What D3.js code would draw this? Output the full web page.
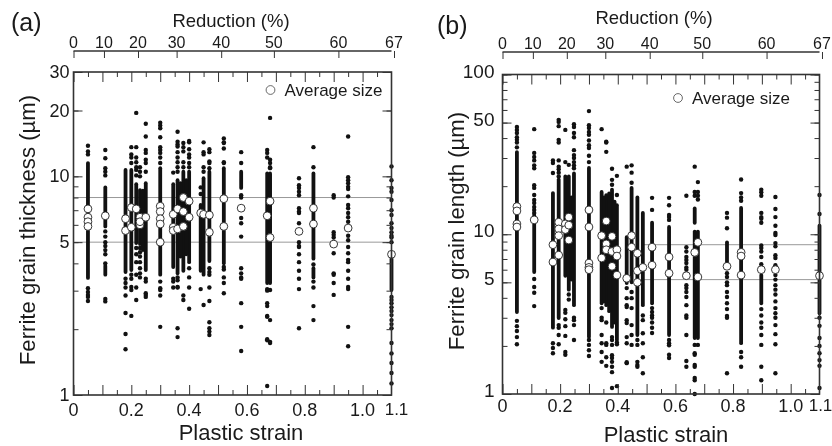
<!DOCTYPE html>
<html>
<head>
<meta charset="utf-8">
<script src="https://cdn.jsdelivr.net/npm/d3@7"></script>
<style>
body { margin: 0; background: #fff; }
svg { display: block; filter: blur(0.4px); }
text { font-family: "Liberation Sans", Arial, sans-serif; fill: #1a1a1a; }
.axis text { font-family: "Liberation Sans", Arial, sans-serif; fill: #1a1a1a; }
.axis path, .axis line { stroke: #333; }
.guide { stroke: #999; stroke-width: 1; }
</style>
</head>
<body>
<script>
var w = 832;
var h = 446;

//Shared tick labels
var reductionTicks = [0, 10, 20, 30, 40, 50, 60, 67];
var strainLabels = [0, 0.2, 0.4, 0.6, 0.8, 1.0];
var strainTicks = [0, 0.1, 0.2, 0.3, 0.4, 0.5, 0.6, 0.7, 0.8, 0.9, 1.0];
var strainMinor = [0.05, 0.15, 0.25, 0.35, 0.45, 0.55, 0.65, 0.75, 0.85, 0.95, 1.05];

//Panel (a) ferrite grain thickness, one entry per sample column
//last few columns fill the merged area between neighbouring samples
var aStrain = [0.05, 0.11, 0.18, 0.2, 0.217, 0.23, 0.25, 0.3, 0.345, 0.36, 0.38, 0.4, 0.44, 0.45, 0.47, 0.52, 0.58, 0.67, 0.68, 0.78, 0.83, 0.9, 0.95, 1.1, 0.24, 0.37, 0.39];
var aRuns = [
	[[3.43, 11.5]],
	[[5.9, 8.9], [3.55, 3.9]],
	[[3.65, 10.7]],
	[[3.73, 10.7]],
	[[4.95, 9.2]],
	[[4.9, 8.65]],
	[[3.73, 9.3]],
	[[3.55, 10.9]],
	[[3.85, 9.2]],
	[[3.6, 9.6]],
	[[3.7, 10.5]],
	[[4.05, 10.5]],
	[[3.7, 7.4]],
	[[3.55, 9.8]],
	[[4.1, 10.5]],
	[[4, 10.9]],
	[[8.85, 10.5]],
	[[3.25, 10.3]],
	[[3.25, 10.3]],
	[],
	[[4.2, 10.3], [3.45, 3.8]],
	[],
	[],
	[[3.02, 4.2]],
	[[4.6, 8.6]],
	[[4.3, 9.3]],
	[[4.4, 9.6]]
];
var aDots = [
	[13.8, 13, 12.6, 3.08, 2.96, 2.87, 2.81, 2.69],
	[13.2, 12.1, 10.9, 10.5, 10.1, 5.6, 5.3, 5, 4.8, 4.6, 4.4, 4, 2.75, 2.68],
	[3.4, 3.25, 3.1, 2.85, 2.37, 1.9, 1.62],
	[13.6, 12.6, 12.2, 11.5, 3.55, 3.4, 3.12, 3.02, 2.3],
	[19.5, 13.6, 12.2, 11.6, 11, 10.7, 10.1, 4.7, 4.4, 4.05, 3.55, 3.1, 2.72],
	[11, 10.5, 10, 4.7, 4.5, 4.3, 4.05, 3.8, 3.6, 3.45],
	[17.4, 15.2, 13.2, 12.8, 11.9, 11.5, 10.5, 3.4, 3.3, 2.92, 2.87, 2.81],
	[17.6, 17.1, 16.6, 15.1, 13.6, 13.2, 12.8, 12.2, 11.5, 3.3, 3.08, 3.02, 2.85, 2.05],
	[10.4, 3.4, 3.3, 3.1],
	[16, 14.4, 14, 13.7, 12.9, 12.2, 11.6, 11, 10.5, 3.45, 3.35, 3.12, 3.1, 2.02, 1.84],
	[14.2, 13.6, 13, 11.6, 11, 2.85, 2.72],
	[14.5, 14.3, 13.3, 12.6, 12.2, 11.5, 11, 3.8, 3.45, 3.1, 2.48],
	[8.9, 8.3, 3.05],
	[14.3, 12.9, 12.6, 11, 10.5, 2.58],
	[13.3, 12.9, 11.7, 11.5, 10.9, 3.8, 3.65, 3.55, 3.1, 2.69, 2.15, 2.02, 1.95, 1.88],
	[14.9, 14.3, 14.2, 13.4, 11.6, 11.5, 3.85, 3.75, 3.45, 3.25, 2.92],
	[12.9, 11.5, 8.2, 8, 6.45, 6.1, 5.3, 3.8, 3.6, 3.45, 3.4, 2.63, 2.05, 1.59],
	[13.2, 12.8, 12.2, 3.05, 3, 2.63, 2.55, 2.3, 2.28, 1.8, 1.78, 1.1],
	[18.5, 11.9, 11.5, 11, 10.9, 3.02, 2.2, 1.75, 1.73],
	[9.8, 9.1, 8.85, 8.5, 8.2, 7.15, 6.9, 6.8, 6.1, 5, 4.75, 4.8, 4.4, 4.05, 3.7, 3.4, 3.05, 2.02],
	[13.6, 11, 3.95, 3.3, 3.1, 2.55, 2.2],
	[8.2, 8, 5.55, 5.4, 5.25, 5, 4.45, 3.6, 3.55, 3.25, 2.87],
	[15.2, 9.9, 9.6, 9.3, 8.95, 8.75, 8.1, 7.4, 7.15, 6.8, 6.5, 6.2, 5.35, 5.1, 4.75, 4.45, 4.15, 4.05, 3.7, 3.4, 3.12, 3.05, 2.05, 1.67],
	[11.1, 9.6, 8.85, 8.5, 7.8, 7, 6.65, 6.1, 5.8, 5.55, 5.35, 5.25, 5, 2.81, 2.72, 2.63, 2.52, 2.42, 2.32, 2.2, 2.11, 2.02, 1.73, 1.55, 1.4, 1.26, 1.13],
	[],
	[],
	[]
];
var aAverage = [
	[7.1, 6.5, 6.2, 5.9],
	[6.6],
	[6.4, 5.65],
	[7.2, 5.85],
	[7.1],
	[6.5, 6, 6.2],
	[6.5],
	[7.3, 6.9, 6.4, 6.05, 5],
	[6.7, 5.85, 5.65],
	[7.1, 5.75],
	[8, 6.9, 5.9],
	[7.7, 6.5],
	[6.8],
	[6.7],
	[6.65, 5.55],
	[7.9, 5.9],
	[7.15],
	[6.6],
	[7.7, 5.25],
	[5.6],
	[7.15, 6.05],
	[4.9],
	[5.8],
	[4.4],
	[],
	[],
	[]
];

//Panel (b) ferrite grain length
var bStrain = [0.05, 0.11, 0.175, 0.195, 0.218, 0.23, 0.248, 0.3, 0.344, 0.36, 0.38, 0.397, 0.431, 0.448, 0.468, 0.487, 0.519, 0.578, 0.638, 0.667, 0.678, 0.779, 0.828, 0.898, 0.947, 1.1, 0.239, 0.352, 0.37, 0.389];
var bRuns = [
	[[3.26, 32.7]],
	[[5.8, 13.2]],
	[[2.6, 18.1]],
	[[2.99, 22]],
	[[5.5, 23]],
	[[4.5, 23]],
	[[3.6, 24]],
	[[2.27, 26]],
	[[3.7, 18.4]],
	[[3.6, 17.6]],
	[[2.63, 19]],
	[[2.18, 15.2]],
	[[4.95, 9.6]],
	[[5, 19.5]],
	[[2.34, 17]],
	[[3.6, 13.6]],
	[[3.7, 11.8]],
	[[2.34, 11.1]],
	[],
	[[2.24, 10.4], [11.8, 14.5]],
	[[2.24, 10.4]],
	[[6.25, 8.9]],
	[[2.08, 14.6]],
	[[3.7, 5.55]],
	[],
	[[3.2, 11.3]],
	[[5.2, 17]],
	[[3.8, 17]],
	[[3.3, 18]],
	[[2.8, 16]]
];
var bDots = [
	[46.9, 45, 43, 40.5, 39, 37.5, 35, 2.87, 2.66, 2.48, 2.27, 2.05],
	[45.5, 32.3, 30.5, 29, 27, 25.9, 20.3, 19.5, 17.6, 16.4, 15.7, 14.8, 14.2, 13.6, 5.25, 4.68, 4.3, 3.55],
	[29, 27.9, 24.2, 2.08, 1.94, 1.8],
	[52, 50.5, 47.5, 39, 37.5, 29, 26.5, 25.5, 24.3, 23, 2.7, 2.6, 2.34, 2.05],
	[45, 28.3, 3.36, 3.22, 2.94, 2.66, 2.31, 1.83, 1.76],
	[27.2, 4.2, 3.9],
	[48.9, 46.9, 43, 40.5, 33.6, 31.3, 30, 28.3, 27, 25.9, 3, 2.9, 2.7, 2.18],
	[59, 48.2, 46.2, 43.7, 41.9, 38.6, 36.1, 34.7, 31, 28.3, 2.18, 2.03, 1.88, 1.73],
	[45.5, 3.45, 3, 2.9, 2.34, 2.08, 1.83, 1.59],
	[38, 37.5, 32.8, 2.8, 2.08, 2.03, 1.7, 1.5],
	[25.7, 21.9, 20.4, 2.27, 2.18, 2.03, 1.75, 1.68, 1.59, 1.48, 1.37, 1.09],
	[23.2, 17.6, 2.1, 2.05, 1.12],
	[26.5, 4.6, 3.98, 3.6, 3.5, 2.9, 2.78, 2.27, 2.08, 1.58, 1.56],
	[27, 24.3, 21, 4.35, 3.98, 3.45, 2.7, 2.34, 2.03],
	[2.18, 2.03, 1.59, 1.52, 1.48],
	[3.1, 2.9, 2.4, 2.08, 1.7, 1.35],
	[16.9, 14.2, 3.45, 3.26, 3.1, 3, 2.8, 2.6, 2.41],
	[16.9, 15.2, 13.2, 12.8, 12.3, 2.18, 2.08, 2.02, 1.76, 1.68],
	[17.4, 8.3, 7.8, 7.2, 6.9, 6.6, 6.2, 6, 4.8, 4.6, 4.35, 4.05, 3.6, 3.1, 3, 2.34, 1.61, 1.48],
	[26.5, 18.4, 17.4, 2.03, 1.8, 1.76, 1.52, 1.48, 1.26, 1.22, 1],
	[21.2, 18.4, 17.4, 16.5, 2.03],
	[13.6, 12.7, 10.9, 5.7, 5.4, 5, 4.8, 4.35, 4.05, 3.7, 3.4, 3.08, 3, 1.35],
	[22, 18.1, 17, 16.2, 1.83, 1.7, 1.48],
	[19, 18.3, 17.4, 13.6, 12.8, 12.5, 11.8, 8.5, 8.2, 7.8, 7.2, 6.5, 3.4, 3.1, 2.8, 2.6, 2.34, 2.03, 1.48, 1.22],
	[17.1, 14.4, 12.8, 11.3, 10.2, 9.9, 8.8, 8.4, 7.4, 7.1, 6.4, 5.55, 5.2, 4.8, 4.5, 4.2, 3.8, 3.45, 3.2, 3, 2.7, 2.37, 2.05, 1.35],
	[17.6, 13.4, 3, 2.67, 2.24, 2, 1.8, 1.63, 1.5, 1.09],
	[],
	[],
	[],
	[]
];
var bAverage = [
	[14.9, 14, 11.6, 11.1],
	[12.3],
	[8.6, 6.7],
	[11.9, 10.8, 9.8, 7.4],
	[11.6, 10.7],
	[12.8, 11.4, 9.2],
	[],
	[14.2, 11.1, 6.6, 6.2, 6],
	[9.8, 7.1],
	[12.1, 8.7, 8],
	[9.7, 7.8, 6.3],
	[8, 7.3, 5.55],
	[5.3],
	[9.8, 8.3],
	[7.6, 5.9, 5],
	[6.2],
	[8.3, 6.4],
	[7.2, 5.7],
	[5.5],
	[7.7],
	[8.9, 5.4],
	[6.3],
	[7.7, 7.3, 5.55],
	[6],
	[6],
	[5.5],
	[],
	[],
	[],
	[]
];

var panelA = {
	letter: "(a)", letterX: 11, letterY: 31,
	left: 73.5, right: 391.5, top: 72, bottom: 395, axisY: 51,
	yMin: 1, yMax: 30,
	yLabels: [1, 5, 10, 20, 30], yLabelGap: 4, yLabelDy: 6, yLabelSize: 18,
	yTicks: [1, 2, 3, 4, 5, 6, 7, 8, 9, 10, 20, 30],
	yTitle: "Ferrite grain thickness (µm)", yTitleX: 35, yTitleY: 230,
	xTitleX: 241, xTitleY: 440, xLabelY: 416, endLabelDx: 5,
	reductionX: 231, reductionY: 27,
	legendX: 270.5, legendY: 90,
	guides: [8, 5], guideFrom: 0,
	strain: aStrain, runs: aRuns, dots: aDots, average: aAverage
};
var panelB = {
	letter: "(b)", letterX: 437, letterY: 34,
	left: 502.5, right: 819.5, top: 74.5, bottom: 394, axisY: 52,
	yMin: 1, yMax: 100,
	yLabels: [1, 5, 10, 50, 100], yLabelGap: 8, yLabelDy: 3, yLabelSize: 19,
	yTicks: [1, 2, 3, 4, 5, 6, 7, 8, 9, 10, 20, 30, 40, 50, 60, 70, 80, 90, 100],
	yTitle: "Ferrite grain length (µm)", yTitleX: 464, yTitleY: 231,
	xTitleX: 666, xTitleY: 442, xLabelY: 412, endLabelDx: 1,
	reductionX: 654, reductionY: 24,
	legendX: 678, legendY: 98,
	guides: [8.6, 5.2], guideFrom: 0.49,
	strain: bStrain, runs: bRuns, dots: bDots, average: bAverage
};

//Create SVG element
var svg = d3.select("body")
			.append("svg")
			.attr("width", w)
			.attr("height", h);

function drawPanel(p) {
	var g = svg.append("g");

	//Create scale functions
	var xScale = d3.scaleLinear()
				   .domain([0, 1.1])
				   .range([p.left, p.right]);
	var yScale = d3.scaleLog()
				   .domain([p.yMin, p.yMax])
				   .range([p.bottom, p.top]);
	//Reduction axis: true strain is ln(1/(1-r)), which is a log scale of what is left
	var rScale = d3.scaleLog()
				   .domain([100, 100 * Math.exp(-1.1)])
				   .range([p.left, p.right]);

	//Guide lines
	g.selectAll(".guide")
		.data(p.guides)
		.enter()
		.append("line")
		.attr("class", "guide")
		.attr("x1", xScale(p.guideFrom))
		.attr("x2", p.right)
		.attr("y1", function(d) { return yScale(d); })
		.attr("y2", function(d) { return yScale(d); });

	//Draw each column
	p.strain.forEach(function(s, i) {
		var col = g.append("g");
		col.selectAll("line")
			.data(p.runs[i])
			.enter()
			.append("line")
			.attr("x1", xScale(s))
			.attr("x2", xScale(s))
			.attr("y1", function(d) { return yScale(d[0]); })
			.attr("y2", function(d) { return yScale(d[1]); })
			.attr("stroke", "#111")
			.attr("stroke-width", 3.8)
			.attr("stroke-linecap", "round");
		col.selectAll("circle")
			.data(p.dots[i])
			.enter()
			.append("circle")
			.attr("cx", xScale(s))
			.attr("cy", function(d) { return yScale(d); })
			.attr("r", 2.2)
			.attr("fill", "#111");
	});

	//Average markers go over all the columns
	p.strain.forEach(function(s, i) {
		g.append("g").selectAll("circle")
			.data(p.average[i])
			.enter()
			.append("circle")
			.attr("cx", xScale(s))
			.attr("cy", function(d) { return yScale(d); })
			.attr("r", 3.9)
			.attr("fill", "#fff")
			.attr("stroke", "#222")
			.attr("stroke-width", 0.9);
	});

	//Frame
	g.append("rect")
		.attr("x", p.left)
		.attr("y", p.top)
		.attr("width", p.right - p.left)
		.attr("height", p.bottom - p.top)
		.attr("fill", "none")
		.attr("stroke", "#333")
		.attr("stroke-width", 1.6);

	//Inward ticks on all four sides
	var frameTicks = [
		{ axis: d3.axisBottom(xScale).tickValues(strainTicks).tickSize(-10), y: p.bottom, x: 0 },
		{ axis: d3.axisBottom(xScale).tickValues(strainMinor).tickSize(-5), y: p.bottom, x: 0 },
		{ axis: d3.axisTop(xScale).tickValues(strainTicks).tickSize(-10), y: p.top, x: 0 },
		{ axis: d3.axisTop(xScale).tickValues(strainMinor).tickSize(-5), y: p.top, x: 0 },
		{ axis: d3.axisLeft(yScale).tickValues(p.yTicks).tickSize(-5), y: 0, x: p.left },
		{ axis: d3.axisRight(yScale).tickValues(p.yTicks).tickSize(-5), y: 0, x: p.right },
		{ axis: d3.axisLeft(yScale).tickValues(p.yLabels).tickSize(-9), y: 0, x: p.left },
		{ axis: d3.axisRight(yScale).tickValues(p.yLabels).tickSize(-9), y: 0, x: p.right }
	];
	frameTicks.forEach(function(t) {
		var a = g.append("g")
			.attr("class", "axis")
			.attr("transform", "translate(" + t.x + "," + t.y + ")")
			.call(t.axis.tickFormat(""));
		a.select(".domain").remove();
	});

	//Plastic strain labels
	g.selectAll(".xLabel")
		.data(strainLabels)
		.enter()
		.append("text")
		.attr("class", "xLabel")
		.attr("x", function(d) { return xScale(d); })
		.attr("y", p.xLabelY)
		.attr("text-anchor", "middle")
		.attr("font-size", 18)
		.text(function(d) { return d === 0 ? "0" : d.toFixed(1); });
	g.append("text")
		.attr("x", xScale(1.1) + p.endLabelDx)
		.attr("y", p.xLabelY - 1)
		.attr("text-anchor", "middle")
		.attr("font-size", 17)
		.text("1.1");

	//Y labels
	g.selectAll(".yLabel")
		.data(p.yLabels)
		.enter()
		.append("text")
		.attr("class", "yLabel")
		.attr("x", p.left - p.yLabelGap)
		.attr("y", function(d) { return yScale(d) + p.yLabelDy; })
		.attr("text-anchor", "end")
		.attr("font-size", p.yLabelSize)
		.text(function(d) { return d; });

	//Reduction axis
	var topAxis = d3.axisTop(rScale)
					.tickValues(reductionTicks.map(function(r) { return 100 - r; }))
					.tickSize(-7)
					.tickPadding(0)
					.tickFormat("");
	var t = g.append("g")
		.attr("class", "axis")
		.attr("transform", "translate(0," + p.axisY + ")")
		.call(topAxis);
	t.select(".domain").remove();
	g.append("line")
		.attr("x1", p.left)
		.attr("x2", p.right)
		.attr("y1", p.axisY)
		.attr("y2", p.axisY)
		.attr("stroke", "#333")
		.attr("stroke-width", 1.4);
	g.selectAll(".rLabel")
		.data(reductionTicks)
		.enter()
		.append("text")
		.attr("class", "rLabel")
		.attr("x", function(d) { return rScale(100 - d); })
		.attr("y", p.axisY - 3)
		.attr("text-anchor", "middle")
		.attr("font-size", 16)
		.text(function(d) { return d; });

	//Titles
	g.append("text")
		.attr("x", p.reductionX)
		.attr("y", p.reductionY)
		.attr("text-anchor", "middle")
		.attr("font-size", 18.5)
		.text("Reduction (%)");
	g.append("text")
		.attr("x", p.xTitleX)
		.attr("y", p.xTitleY)
		.attr("text-anchor", "middle")
		.attr("font-size", 22)
		.text("Plastic strain");
	g.append("text")
		.attr("transform", "translate(" + p.yTitleX + "," + p.yTitleY + ") rotate(-90)")
		.attr("text-anchor", "middle")
		.attr("font-size", 22.2)
		.text(p.yTitle);
	g.append("text")
		.attr("x", p.letterX)
		.attr("y", p.letterY)
		.attr("font-size", 25)
		.text(p.letter);

	//Legend
	g.append("circle")
		.attr("cx", p.legendX)
		.attr("cy", p.legendY)
		.attr("r", 4.4)
		.attr("fill", "#fff")
		.attr("stroke", "#444")
		.attr("stroke-width", 0.8);
	g.append("text")
		.attr("x", p.legendX + 14)
		.attr("y", p.legendY + 6)
		.attr("font-size", 17)
		.text("Average size");
}

drawPanel(panelA);
drawPanel(panelB);
</script>
</body>
</html>
